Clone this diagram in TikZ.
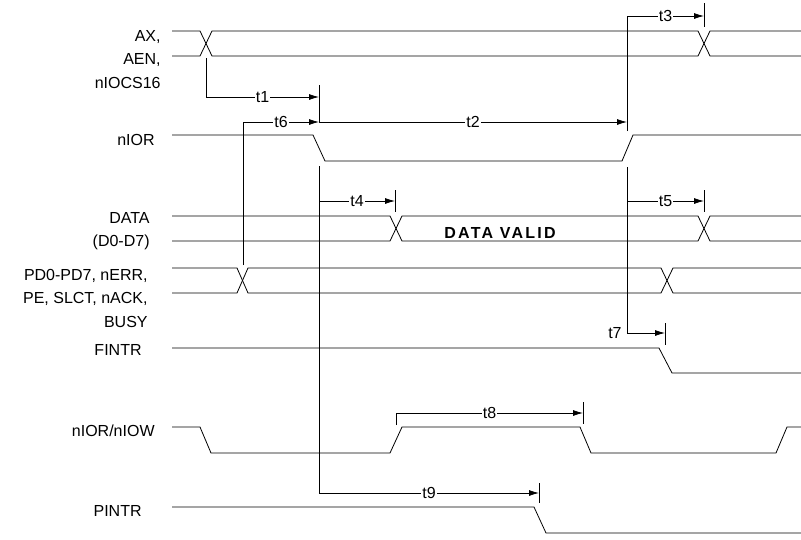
\documentclass[tikz,border=0pt]{standalone}
\usepackage{fontspec}
\setmainfont{Liberation Sans}
\usetikzlibrary{arrows.meta}

\begin{document}
\begin{tikzpicture}[x=1pt, y=-1pt, line width=0.8pt,
	siglabel/.style={font=\fontsize{16}{23.5}\selectfont, align=right, anchor=east, inner sep=0pt},
	tlabel/.style={font=\fontsize{16}{19}\selectfont, fill=white, inner sep=1pt},
	tarrow/.style={-{Latex[length=10pt, width=6pt]}}]
	\useasboundingbox (0,0) rectangle (801,539);

	% signals
	\node[siglabel] (lax) at (161,59.5) {AX,\\AEN,\\nIOCS16};
	\draw (172,31) -- (200,31) -- (212,56) -- (698,56) -- (710,31) -- (801,31);
	\draw (172,56) -- (200,56) -- (212,31) -- (698,31) -- (710,56) -- (801,56);

	\node[siglabel] (lior) at (155,140) {nIOR};
	\draw (172,135) -- (313,135) -- (325,161) -- (622,161) -- (633,135) -- (801,135);

	\node[siglabel] (ldata) at (150,231) {DATA\\(D0-D7)};
	\draw (172,216) -- (390,216) -- (402,241) -- (698,241) -- (710,216) -- (801,216);
	\draw (172,241) -- (390,241) -- (402,216) -- (698,216) -- (710,241) -- (801,241);
	\node[font=\fontsize{16}{19}\selectfont\bfseries\addfontfeature{LetterSpace=14}] (valid) at (500,233) {DATA VALID};

	\node[siglabel] (lpd) at (148,298) {PD0-PD7, nERR,\\PE, SLCT, nACK,\\BUSY};
	\draw (172,268) -- (237,268) -- (248,293) -- (661,293) -- (673,268) -- (801,268);
	\draw (172,293) -- (237,293) -- (248,268) -- (661,268) -- (673,293) -- (801,293);

	\node[siglabel] (lfintr) at (142,350) {FINTR};
	\draw (172,348) -- (659,348) -- (672,373) -- (801,373);

	\node[siglabel] (lrw) at (155,431) {nIOR/nIOW};
	\draw (172,427) -- (200,427) -- (211,453) -- (390,453) -- (402,427) -- (580,427)
		-- (591,453) -- (776,453) -- (787,427) -- (801,427);

	\node[siglabel] (lpintr) at (142,510.5) {PINTR};
	\draw (172,507) -- (534,507) -- (546,533) -- (801,533);

	% reference points on the edges
	\coordinate (axedge) at (206,58);
	\coordinate (pdedge) at (243,265);
	\coordinate (iorfall) at (319,166);
	\coordinate (iorrise) at (627,131);
	\coordinate (iorrise2) at (627,167);
	\coordinate (rwrise) at (396,425);

	% timing
	\draw[tarrow] (axedge) -- (206,97) -- node[tlabel] (t1) {t1} (319,97);
	\draw[tarrow] (pdedge) -- (243,122) -- node[tlabel] (t6) {t6} (319,122);
	\draw[tarrow] (319,122) -- node[tlabel] (t2) {t2} (627,122);
	\draw[tarrow] (iorrise) -- (627,16) -- node[tlabel] (t3) {t3} (704,16);
	\draw[tarrow] (iorfall) -- (319,493) -- node[tlabel] (t9) {t9} (539,493);
	\draw[tarrow] (319,201) -- node[tlabel] (t4) {t4} (395,201);
	\draw[tarrow] (iorrise2) -- (627,333) -- (665,333);
	\node[tlabel, anchor=east, fill=none] (t7) at (623,333) {t7};
	\draw[tarrow] (627,201) -- node[tlabel] (t5) {t5} (704,201);
	\draw[tarrow] (rwrise) -- (396,413) -- node[tlabel] (t8) {t8} (583,413);

	% end marks
	\foreach \x/\ya/\yb in {319/85/123, 704/3/27, 395/190/212, 704/190/212,
		665/323/345, 583/402/424, 539/483/503}
		\draw (\x,\ya) -- (\x,\yb);
\end{tikzpicture}
\end{document}
